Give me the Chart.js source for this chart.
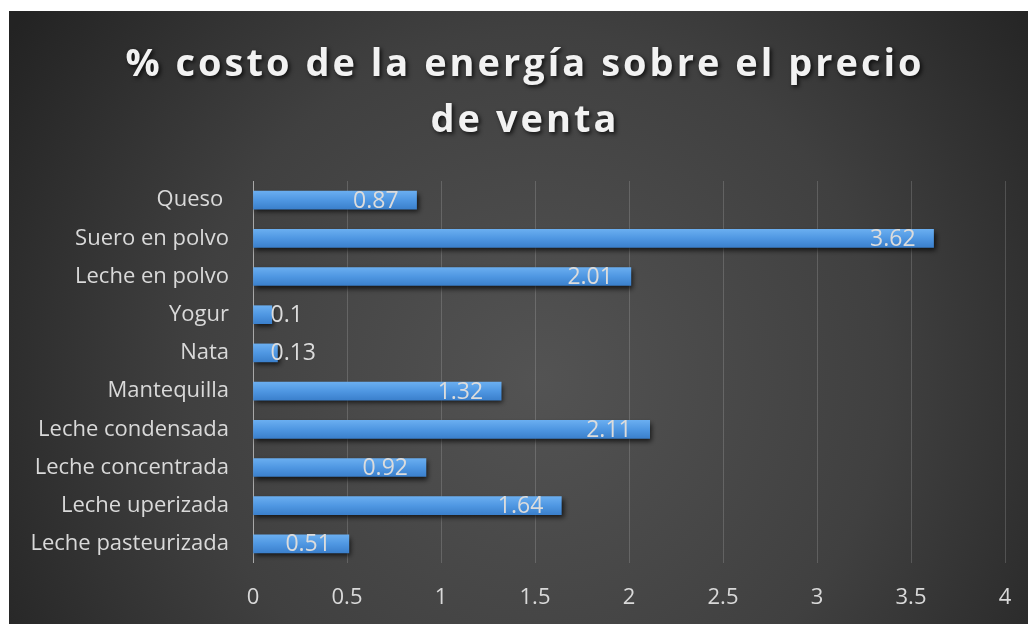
<!DOCTYPE html>
<html>
<head>
<meta charset="utf-8">
<script src="https://cdn.jsdelivr.net/npm/chart.js@4.4.1/dist/chart.umd.min.js"></script>
<style>
  html, body { margin: 0; padding: 0; background: #ffffff; overflow: hidden; }
  #wrap { position: absolute; left: 9px; top: 11px; width: 1019px; height: 613px; }
</style>
</head>
<body>
<div id="wrap"><canvas id="c"></canvas></div>
<script>
// ---- data ----
const titleLines = ['% costo de la energía sobre el precio', 'de venta'];
const categories = ['Queso ', 'Suero en polvo', 'Leche en polvo', 'Yogur', 'Nata', 'Mantequilla',
  'Leche condensada', 'Leche concentrada', 'Leche uperizada', 'Leche pasteurizada'];
const values = [0.87, 3.62, 2.01, 0.1, 0.13, 1.32, 2.11, 0.92, 1.64, 0.51];
const xMin = 0, xMax = 4, xStep = 0.5;

const FONT = "'Open Sans', 'DejaVu Sans', sans-serif";

const backgroundPlugin = {
  id: 'bg',
  beforeDraw(chart) {
    const ctx = chart.ctx, w = chart.width, h = chart.height;
    ctx.save();
    const g = ctx.createRadialGradient(w * 0.52, h * 0.6, 0, w * 0.52, h * 0.6, w * 0.62);
    g.addColorStop(0, '#535353');
    g.addColorStop(0.55, '#404040');
    g.addColorStop(1, '#232323');
    ctx.fillStyle = g;
    ctx.fillRect(0, 0, w, h);
    ctx.restore();
  }
};

const titlePlugin = {
  id: 'customTitle',
  afterDraw(chart) {
    const ctx = chart.ctx;
    ctx.save();
    ctx.font = "bold 38px " + FONT;
    ctx.letterSpacing = '3px';
    ctx.textAlign = 'center';
    ctx.textBaseline = 'alphabetic';
    ctx.fillStyle = '#f2f2f2';
    ctx.shadowColor = 'rgba(0,0,0,0.75)';
    ctx.shadowBlur = 4;
    ctx.shadowOffsetX = 2;
    ctx.shadowOffsetY = 2;
    const cx = 516;
    ctx.fillText(titleLines[0], cx, 65);
    ctx.fillText(titleLines[1], cx, 121);
    ctx.restore();
  }
};

const shadowPlugin = {
  id: 'barShadow',
  beforeDatasetsDraw(chart) {
    const ctx = chart.ctx;
    ctx.save();
    ctx.shadowColor = 'rgba(0,0,0,0.7)';
    ctx.shadowBlur = 5;
    ctx.shadowOffsetX = 2;
    ctx.shadowOffsetY = 3;
  },
  afterDatasetsDraw(chart) {
    chart.ctx.restore();
  }
};

const labelPlugin = {
  id: 'barLabels',
  afterDatasetsDraw(chart) {
    const ctx = chart.ctx;
    const meta = chart.getDatasetMeta(0);
    ctx.save();
    ctx.font = "23px " + FONT;
    ctx.fillStyle = '#dcdcdc';
    ctx.textBaseline = 'middle';
    ctx.textAlign = 'left';
    meta.data.forEach((el, i) => {
      const txt = String(values[i]);
      const tw = ctx.measureText(txt).width;
      let tx = el.x - 18 - tw;
      if (tx < el.base + 17) tx = el.base + 17;
      ctx.fillText(txt, tx, el.y + 1);
    });
    ctx.restore();
  }
};

function barFill(c) {
  const chart = c.chart;
  const ys = chart.scales && chart.scales.y;
  if (!ys || c.dataIndex === undefined) return '#4f97e2';
  const y = ys.getPixelForValue(c.dataIndex);
  if (!isFinite(y)) return '#4f97e2';
  const h = 18;
  const g = chart.ctx.createLinearGradient(0, y - h / 2, 0, y + h / 2);
  g.addColorStop(0, '#6aaef0');
  g.addColorStop(0.5, '#4f97e2');
  g.addColorStop(1, '#3b80cc');
  return g;
}

const ctx = document.getElementById('c').getContext('2d');
new Chart(ctx, {
  type: 'bar',
  data: {
    labels: categories,
    datasets: [{
      data: values,
      backgroundColor: barFill,
      borderWidth: 0,
      barThickness: 18
    }]
  },
  options: {
    indexAxis: 'y',
    responsive: true,
    maintainAspectRatio: false,
    animation: false,
    layout: { padding: { top: 170, right: 23, bottom: 0, left: 0 }, autoPadding: false },
    plugins: {
      legend: { display: false },
      title: { display: false },
      tooltip: { enabled: false }
    },
    scales: {
      x: {
        min: xMin, max: xMax,
        ticks: {
          stepSize: xStep,
          color: '#d9d9d9',
          font: { family: FONT, size: 22 },
          padding: 22,
          callback: (v) => String(v)
        },
        grid: {
          drawTicks: false,
          color: (c) => c.tick && c.tick.value === 0 ? '#a8a8a8' : 'rgba(255,255,255,0.16)',
          lineWidth: 1
        },
        border: { display: false },
        afterFit: (s) => { s.height = 61; s.paddingLeft = 0; s.paddingRight = 0; }
      },
      y: {
        ticks: {
          color: '#d9d9d9',
          font: { family: FONT, size: 22 },
          padding: 24,
          autoSkip: false
        },
        grid: { display: false, drawTicks: false },
        border: { display: false },
        afterFit: (s) => { s.width = 244; s.paddingTop = 0; s.paddingBottom = 0; }
      }
    }
  },
  plugins: [backgroundPlugin, shadowPlugin, labelPlugin, titlePlugin]
});
</script>
</body>
</html>
